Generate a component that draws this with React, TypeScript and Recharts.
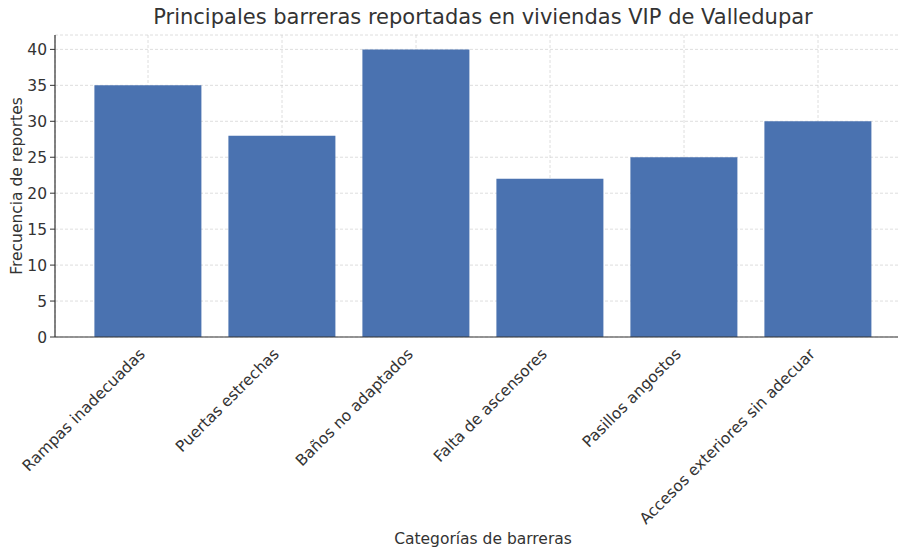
import { BarChart, Bar, XAxis, YAxis, CartesianGrid } from 'recharts';

const categories = [
    'Rampas inadecuadas',
    'Puertas estrechas',
    'Baños no adaptados',
    'Falta de ascensores',
    'Pasillos angostos',
    'Accesos exteriores sin adecuar',
];
const reportes = [35, 28, 40, 22, 25, 30];
const yTicks = [0, 5, 10, 15, 20, 25, 30, 35, 40];

const data = categories.map((categoria, i) => ({ categoria, reportes: reportes[i] }));

const FONT = '"DejaVu Sans", sans-serif';
const FS = 15.5;

const RotatedTick = (props: any) => {
    const { x, y, payload } = props;
    return (
        <g transform={`translate(${x - 2},${y + 10})`}>
            <text
                transform="rotate(-45)"
                textAnchor="end"
                fontSize={FS}
                fontFamily={FONT}
                fill="#333"
            >
                {payload.value}
            </text>
        </g>
    );
};

const YTitle = (props: any) => {
    const vb = props.viewBox;
    const cx = 17;
    const cy = vb.y + vb.height / 2;
    return (
        <text
            x={cx}
            y={cy}
            transform={`rotate(-90 ${cx} ${cy})`}
            textAnchor="middle"
            dominantBaseline="central"
            fontSize={FS}
            fontFamily={FONT}
            fill="#333"
        >
            Frecuencia de reportes
        </text>
    );
};

export default function App() {
    return (
        <div style={{ position: 'absolute', left: 0, top: 0, width: 898, height: 548, overflow: 'hidden', background: '#fff' }}>
            <div style={{ position: 'absolute', left: 0, top: 5, width: 898, textAlign: 'center', paddingLeft: 68, boxSizing: 'border-box', fontFamily: FONT, fontSize: 21, color: '#333' }}>
                Principales barreras reportadas en viviendas VIP de Valledupar
            </div>
            <BarChart
                width={911}
                height={548}
                data={data}
                margin={{ top: 35, right: 0, left: 0, bottom: 0 }}
                barCategoryGap="10%"
                style={{ position: 'absolute', left: 0, top: 0 }}
            >
                <XAxis
                    dataKey="categoria"
                    interval={0}
                    height={211}
                    padding={{ left: 26, right: 26 }}
                    tick={<RotatedTick />}
                    tickLine={false}
                    axisLine={{ stroke: '#333', strokeWidth: 1.2 }}
                    label={{ value: 'Categorías de barreras', position: 'insideBottom', offset: 4, fontSize: FS, fontFamily: FONT, fill: '#333' }}
                />
                <YAxis
                    width={55}
                    domain={[0, 42]}
                    ticks={yTicks}
                    interval={0}
                    tickSize={5}
                    tickMargin={3}
                    tick={{ fontSize: FS, fontFamily: FONT, fill: '#333' }}
                    tickLine={{ stroke: '#333' }}
                    axisLine={{ stroke: '#333', strokeWidth: 1.2 }}
                    label={{ content: <YTitle /> }}
                />
                <Bar dataKey="reportes" fill="#4a72b0" isAnimationActive={false} />
                <CartesianGrid stroke="#c8c8c8" strokeOpacity={0.6} strokeDasharray="3 2" />
            </BarChart>
        </div>
    );
}
